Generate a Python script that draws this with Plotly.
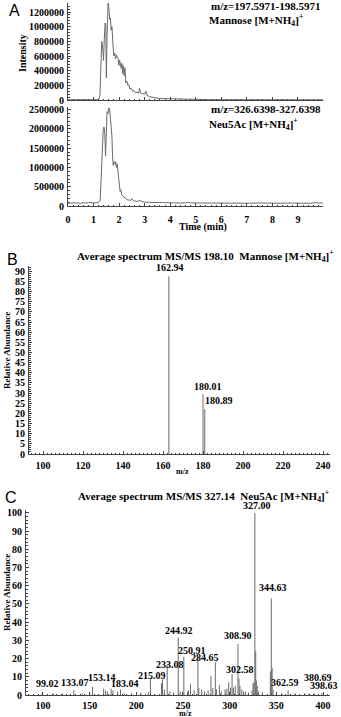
import plotly.graph_objects as go

# ---- data -------------------------------------------------------------
# A, top: Mannose extracted-ion chromatogram (time in min, intensity)
man_time = [0.0, 0.5, 1.0, 1.2, 1.25, 1.29, 1.32, 1.36, 1.39, 1.42, 1.45, 1.48, 1.50,
            1.53, 1.57, 1.60, 1.63, 1.66, 1.69, 1.72, 1.74, 1.77, 1.80, 1.83, 1.86,
            1.90, 1.93, 1.96, 1.99, 2.02, 2.05, 2.08, 2.11, 2.14, 2.17, 2.20, 2.23,
            2.26, 2.30, 2.34, 2.38, 2.42, 2.47, 2.52, 2.58, 2.64, 2.70, 2.76, 2.80,
            2.84, 2.90, 2.95, 3.00, 3.05, 3.10, 3.2, 3.3, 3.4, 3.5, 3.6, 3.8, 4.0,
            4.2, 4.4, 4.6, 4.8, 5.0, 5.2, 5.5, 6.0, 6.5, 7.0, 8.0, 9.0, 10.0]
man_int = [3000, 2000, 3000, 4000, 60000, 600000, 800000, 700000, 540000, 820000,
           1050000, 1020000, 300000, 900000, 1330000, 1250000, 1100000, 1120000,
           950000, 1000000, 780000, 700000, 600000, 640000, 560000, 610000, 590000,
           570000, 470000, 540000, 500000, 430000, 500000, 360000, 470000, 330000,
           440000, 230000, 260000, 200000, 210000, 150000, 160000, 120000, 130000,
           100000, 110000, 90000, 160000, 95000, 90000, 85000, 80000, 120000, 60000,
           45000, 35000, 30000, 25000, 20000, 18000, 15000, 12000, 10000, 9000, 8000,
           7000, 6000, 5000, 4000, 3000, 2500, 2000, 2000, 2000]

# A, bottom: Neu5Ac extracted-ion chromatogram
neu_time = [0.0, 0.1, 0.2, 0.3, 0.4, 0.5, 0.6, 0.7, 0.8, 0.9, 1.0, 1.1, 1.2, 1.26,
            1.30, 1.34, 1.38, 1.41, 1.44, 1.47, 1.50, 1.53, 1.56, 1.60, 1.63, 1.66,
            1.69, 1.72, 1.74, 1.77, 1.80, 1.83, 1.86, 1.89, 1.92, 1.95, 1.98, 2.01,
            2.04, 2.07, 2.10, 2.15, 2.20, 2.25, 2.30, 2.35, 2.40, 2.45, 2.50, 2.55,
            2.60, 2.70, 2.80, 2.90, 3.0, 3.2, 3.4, 3.6, 3.8, 4.0, 4.2, 4.4, 4.6, 4.7,
            4.8, 5.0, 5.3, 5.6, 5.9, 6.2, 6.5, 6.8, 7.1, 7.4, 7.7, 8.0, 8.3, 8.6, 8.9,
            9.2, 9.5, 9.7, 9.8, 9.98]
neu_int = [80000, 70000, 85000, 75000, 80000, 70000, 85000, 75000, 90000, 78000,
           82000, 80000, 95000, 150000, 700000, 1500000, 2000000, 2050000, 1900000,
           1300000, 2300000, 2450000, 2400000, 2550000, 2500000, 2300000, 2100000,
           1800000, 1350000, 1050000, 1150000, 1100000, 1150000, 1000000, 1100000,
           900000, 650000, 550000, 380000, 420000, 300000, 250000, 230000, 200000,
           170000, 150000, 160000, 140000, 190000, 140000, 130000, 120000, 140000,
           110000, 100000, 95000, 90000, 85000, 88000, 80000, 85000, 78000, 82000,
           95000, 80000, 78000, 74000, 80000, 72000, 78000, 70000, 76000, 72000, 78000,
           70000, 75000, 72000, 77000, 70000, 74000, 72000, 90000, 75000, 80000]

# B: MS/MS of m/z 198.10 (Mannose)
b_mz = [162.94, 180.01, 180.89]
b_ab = [87.5, 29.5, 22.0]

# C: MS/MS of m/z 327.14 (Neu5Ac)
c_mz = [99.02, 111.0, 121.0, 133.07, 142.0, 150.0, 153.14, 165.0, 167.0, 169.0,
        173.0, 175.0, 180.0, 183.04, 187.0, 195.0, 205.0, 213.0, 215.09, 227.0,
        228.0, 230.0, 233.08, 236.0, 240.0, 244.92, 247.0, 250.91, 255.0, 256.0,
        258.0, 262.0, 266.0, 267.0, 270.0, 273.0, 277.0, 280.0, 282.0, 284.65,
        286.0, 289.0, 291.0, 295.0, 297.0, 299.0, 301.0, 302.58, 304.0, 306.0,
        308.90, 310.0, 311.0, 313.0, 315.0, 317.0, 320.0, 324.0, 325.0, 326.0,
        327.00, 327.9, 328.6, 329.5, 331.0, 335.0, 343.6, 344.63, 345.5, 346.5,
        350.0, 356.0, 362.59, 370.0, 380.69, 385.0, 391.0, 398.63]
c_ab = [1.0, 0.8, 0.8, 2.5, 1.0, 1.5, 4.5, 3.5, 2.5, 2.0,
        3.5, 2.5, 2.0, 3.0, 1.0, 1.0, 1.2, 1.5, 9.0, 6.5,
        8.5, 3.0, 17.0, 2.0, 1.5, 31.5, 2.0, 21.0, 2.0, 2.5,
        6.0, 2.5, 20.0, 4.0, 3.0, 2.0, 2.5, 10.5, 4.0, 18.0,
        3.0, 5.5, 2.0, 3.0, 3.5, 7.0, 4.0, 11.5, 4.0, 5.0,
        28.0, 9.0, 5.0, 3.0, 2.0, 2.0, 1.5, 2.5, 6.5, 7.0,
        100.0, 24.0, 8.0, 5.0, 2.0, 1.5, 13.0, 53.0, 15.0, 3.0,
        1.0, 1.0, 2.5, 1.0, 1.0, 1.0, 0.8, 1.0]

b_labels = ["162.94", "180.01", "180.89"]
c_labels = ["99.02", "133.07", "153.14", "183.04", "215.09", "233.08", "244.92",
            "250.91", "284.65", "302.58", "308.90", "327.00", "344.63", "362.59",
            "380.69", "398.63"]

# ---- style ------------------------------------------------------------
W, H = 341, 717
SERIF = "Liberation Serif"
SANS = "Liberation Sans"
LINE = "#6a6a6a"
AXIS = "#444444"


def px(x):
    return x / W


def py(y):
    return 1 - y / H


def stems(mz, ab):
    xs, ys = [], []
    for m, a in zip(mz, ab):
        xs += [m, m, None]
        ys += [0, a, None]
    return xs, ys


def axis(domain, rng, anchor, dtick, minor, labels=True, size=10, standoff=1):
    return dict(
        domain=domain, range=rng, anchor=anchor, showgrid=False, zeroline=False,
        automargin=False, showline=True, linecolor=AXIS, linewidth=1,
        ticks="inside", ticklen=3, tickcolor=AXIS, tick0=0, dtick=dtick,
        minor=dict(ticks="inside", ticklen=1.5, dtick=minor, tickcolor=AXIS),
        showticklabels=labels, tickformat="d", ticklabelstandoff=standoff,
        tickfont=dict(family=SERIF, size=size, color="black", weight="bold"),
    )


fig = go.Figure()
fig.add_trace(go.Scatter(x=man_time, y=man_int, mode="lines",
                         line=dict(color=LINE, width=1), xaxis="x", yaxis="y"))
fig.add_trace(go.Scatter(x=neu_time, y=neu_int, mode="lines",
                         line=dict(color=LINE, width=1), xaxis="x2", yaxis="y2"))
bx, by = stems(b_mz, b_ab)
fig.add_trace(go.Scatter(x=bx, y=by, mode="lines",
                         line=dict(color=LINE, width=1), xaxis="x3", yaxis="y3"))
cx, cy = stems(c_mz, c_ab)
fig.add_trace(go.Scatter(x=cx, y=cy, mode="lines",
                         line=dict(color=LINE, width=1), xaxis="x4", yaxis="y4"))

fig.update_layout(
    template="none",
    width=W, height=H, margin=dict(l=0, r=0, t=0, b=0, pad=0, autoexpand=False),
    paper_bgcolor="white", plot_bgcolor="white", showlegend=False,
    font=dict(family=SERIF, color="black"),
    xaxis=axis([px(68), px(323)], [0, 9.98], "y", 1, 0.2, labels=False),
    yaxis=axis([py(100), py(3)], [0, 1.323e6], "x", 200000, 40000),
    xaxis2=axis([px(68), px(323)], [0, 9.98], "y2", 1, 0.2, standoff=4),
    yaxis2=axis([py(206), py(107)], [0, 2.57e6], "x2", 500000, 100000),
    xaxis3=axis([px(29), px(330)], [93, 243.5], "y3", 20, 2, standoff=2),
    yaxis3=axis([py(454), py(266)], [0, 92.6], "x3", 5, 1),
    xaxis4=axis([px(26), px(330)], [81.8, 407.5], "y4", 50, 5),
    yaxis4=axis([py(695), py(510)], [0, 101.6], "x4", 10, 2),
)


def note(text, x, y, size=10, angle=0, family=SERIF, bold=True, xanchor="center"):
    fig.add_annotation(text=text, x=px(x), y=py(y), xref="paper", yref="paper",
                       showarrow=False, textangle=angle, xanchor=xanchor, yanchor="middle",
                       font=dict(family=family, size=size, color="black",
                                 weight="bold" if bold else "normal"))


# panel letters
note("A", 14, 11, size=16, family=SANS, bold=False)
note("B", 12, 259, size=16, family=SANS, bold=False)
note("C", 11, 497, size=16, family=SANS, bold=False)

# panel A texts
note("m/z=197.5971-198.5971", 323, 6, size=11, xanchor="right")
note("Mannose [M+NH<sub>4</sub>]<sup>+</sup>", 207, 20, size=11, xanchor="left")
note("m/z=326.6398-327.6398", 323, 109, size=11, xanchor="right")
note("Neu5Ac [M+NH<sub>4</sub>]<sup>+</sup>", 207, 124, size=11, xanchor="left")
note("Intensity", 22, 53, size=10, angle=-90)
note("Time (min)", 203, 227, size=10)

# panel B texts
note("Average spectrum MS/MS 198.10  Mannose [M+NH<sub>4</sub>]<sup>+</sup>", 205, 256, size=11)
note("Relative Abundance", 7, 351, size=9, angle=-90)
note("m/z", 182, 471, size=8)

# panel C texts
note("Average spectrum MS/MS 327.14  Neu5Ac [M+NH<sub>4</sub>]<sup>+</sup>", 203, 496, size=11)
note("Relative Abundance", 7, 593, size=9, angle=-90)
note("m/z", 185, 713, size=8)

# peak labels (pixel offsets from the peak tops)
b_shift = {"162.94": (1, 1), "180.01": (5, 0), "180.89": (14, 1)}
for m, a, t in zip(b_mz, b_ab, b_labels):
    dx, dy = b_shift[t]
    fig.add_annotation(text=t, x=m, y=a, xref="x3", yref="y3", showarrow=False,
                       xanchor="center", yanchor="bottom", xshift=dx, yshift=dy,
                       font=dict(family=SERIF, size=10, color="black", weight="bold"))

c_shift = {"99.02": (5, 2), "133.07": (1, 0), "153.14": (9, 2), "183.04": (5, -1),
           "215.09": (2, -4), "233.08": (3, -8), "244.92": (1, 0), "250.91": (8, -1),
           "284.65": (-10, -3), "302.58": (8, -3), "308.90": (0, 1), "327.00": (2, 0),
           "344.63": (2, 3), "362.59": (-3, 0), "380.69": (13, 8), "398.63": (2, 0)}
c_peak = dict(zip(c_mz, c_ab))
for t in c_labels:
    m = float(t)
    dx, dy = c_shift[t]
    fig.add_annotation(text=t, x=m, y=c_peak[m], xref="x4", yref="y4", showarrow=False,
                       xanchor="center", yanchor="bottom", xshift=dx, yshift=dy,
                       font=dict(family=SERIF, size=10, color="black", weight="bold"))

# the page's default body margin would push the figure 8 px down and right
fig.write_html("out.html", config={"displayModeBar": False},
               post_script="document.body.style.margin = '0';")
